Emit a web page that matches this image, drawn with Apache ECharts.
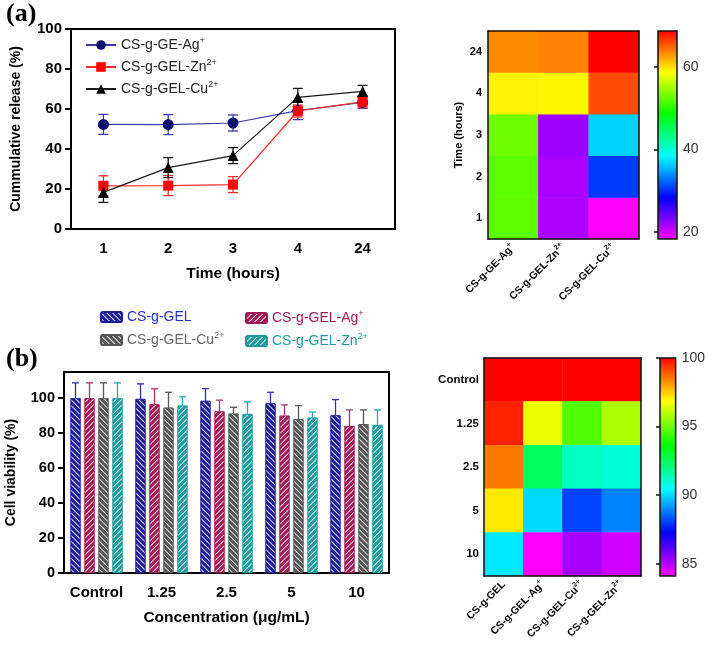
<!DOCTYPE html>
<html><head><meta charset="utf-8">
<script src="https://cdn.jsdelivr.net/npm/echarts@6/dist/echarts.min.js"></script>
<style>html,body{margin:0;padding:0;background:#fff}#c{width:708px;height:647px}</style>
</head><body><div id="c"></div>
<script>
// ---------- Panel (a): cumulative release ----------
const timeCats = ['1', '2', '3', '4', '24'];
const releaseNames = ['CS-g-GE-Ag+', 'CS-g-GEL-Zn2+', 'CS-g-GEL-Cu2+'];
const agRelease = [52.3, 52.2, 53.0, 59.2, 63.3];
const agErr = [5, 5, 4, 4.5, 3];
const znRelease = [21.6, 21.7, 22.2, 59.0, 63.6];
const znErr = [5, 5, 4, 3, 3];
const cuRelease = [18.3, 30.7, 36.7, 65.8, 68.8];
const cuErr = [5, 5, 4, 4.5, 3];
const releaseTicks = [0, 20, 40, 60, 80, 100];
const relColorbarTicks = [20, 40, 60];

// ---------- Panel (b): cell viability ----------
const concCats = ['Control', '1.25', '2.5', '5', '10'];
const viaNames = ['CS-g-GEL', 'CS-g-GEL-Ag+', 'CS-g-GEL-Cu2+', 'CS-g-GEL-Zn2+'];
const gelVia = [100, 99.6, 98.5, 97.1, 90.2];
const gelErr = [8.8, 8.6, 7.0, 6.3, 9.0];
const agVia = [100, 96.6, 92.5, 90.0, 84.1];
const agVErr = [8.8, 8.8, 6.4, 6.2, 9.2];
const cuVia = [100, 94.6, 91.2, 88.1, 85.2];
const cuVErr = [8.8, 8.8, 3.6, 7.7, 8.1];
const znVia = [100, 95.8, 91.0, 88.9, 84.7];
const znVErr = [8.8, 5.0, 6.9, 3.2, 8.6];
const viaTicks = [0, 20, 40, 60, 80, 100];
const viaColorbarTicks = [85, 90, 95, 100];

// ---------- helpers ----------
const FONT = 'Liberation Sans, Arial, sans-serif';
// internal series keys carry a panel prefix so that identical labels in (a) and (b) stay separate
const keyA = n => 'a|' + n;
const keyB = n => 'b|' + n;
function sup(name) {
  name = name.replace(/^[ab]\|/, '');
  const m = name.match(/^(.*?)(\d?\+)$/);
  return m ? '{b|' + m[1] + '}{s|' + m[2] + '}' : '{b|' + name + '}';
}
// rainbow colour map (magenta -> red), style only
const rainbow = [];
const gradStops = [];
for (let h = 300; h >= 0; h -= 20) {
  rainbow.push('hsl(' + h + ',100%,50%)');
  gradStops.push({ offset: h / 300, color: 'hsl(' + h + ',100%,50%)' });
}
gradStops.sort((a, b) => a.offset - b.offset);

const relSeries = [agRelease, znRelease, cuRelease];
const relErrs = [agErr, znErr, cuErr];
const viaSeries = [gelVia, agVia, cuVia, znVia];
const viaErrs = [gelErr, agVErr, cuVErr, znVErr];

const relMin = Math.min(...relSeries.flat());
const relMax = Math.max(...relSeries.flat());
const viaMin = Math.min(...viaSeries.flat());
const viaMax = Math.max(...viaSeries.flat());

const lineColors = ['#3a3aa6', '#ff2a2a', '#1a1a1a'];
const markerColors = ['#0c0f6e', '#ff0000', '#000000'];
const markerShapes = ['circle', 'rect', 'triangle'];
const barColors = ['#1d1d96', '#a11a58', '#555555', '#1e9a9c'];
const barErrColors = ['#3030b0', '#b3306e', '#555555', '#2aa2b2'];
const legendTextColors = ['#2230d0', '#a11a58', '#666666', '#1e9a9c'];
const barRot = [Math.PI / 4, -Math.PI / 4, Math.PI / 4, -Math.PI / 4];

function errItem(capHalf, offset, upperOnly) {
  return function (params, api) {
    const x = api.value(0), v = api.value(1), e = api.value(2);
    const pt = api.coord([x, v + e]);
    const pb = upperOnly ? api.coord([x, v]) : api.coord([x, v - e]);
    const cx = pt[0] + offset;
    const st = { stroke: api.visual('color'), lineWidth: 1.3 };
    const ch = [
      { type: 'line', shape: { x1: cx, y1: pt[1], x2: cx, y2: pb[1] }, style: st },
      { type: 'line', shape: { x1: cx - capHalf, y1: pt[1], x2: cx + capHalf, y2: pt[1] }, style: st }
    ];
    if (!upperOnly) ch.push({ type: 'line', shape: { x1: cx - capHalf, y1: pb[1], x2: cx + capHalf, y2: pb[1] }, style: st });
    return { type: 'group', children: ch };
  };
}
function colorbarItem(params, api) {
  const p1 = api.coord([0, api.value(2)]);
  const p2 = api.coord([1, api.value(1)]);
  return {
    type: 'rect',
    shape: { x: p1[0], y: p1[1], width: p2[0] - p1[0], height: p2[1] - p1[1] },
    style: { fill: new echarts.graphic.LinearGradient(0, 0, 0, 1, gradStops), stroke: '#111', lineWidth: 1.5 }
  };
}

const boldNum = { fontFamily: FONT, fontWeight: 'bold', color: '#000' };

const series = [];
// (a) lines
releaseNames.forEach((n, i) => {
  series.push({
    name: keyA(n), type: 'line', xAxisIndex: 0, yAxisIndex: 0, data: relSeries[i],
    symbol: markerShapes[i], symbolSize: i === 1 ? 10 : 11, z: 4,
    lineStyle: { color: lineColors[i], width: 1.2 },
    itemStyle: { color: markerColors[i] }
  });
});
releaseNames.forEach((n, i) => {
  series.push({
    type: 'custom', xAxisIndex: 0, yAxisIndex: 0, z: 3,
    itemStyle: { color: lineColors[i] },
    renderItem: errItem(5, 0, false),
    data: relSeries[i].map((v, k) => [k, v, relErrs[i][k]])
  });
});
// (a) heatmap
const relHeat = [];
relSeries.forEach((arr, xi) => arr.forEach((v, yi) => relHeat.push([xi, yi, v])));
series.push({ type: 'heatmap', xAxisIndex: 1, yAxisIndex: 1, data: relHeat, itemStyle: { borderWidth: 0 } });
const relHeatIndex = series.length - 1;
series.push({ type: 'custom', xAxisIndex: 3, yAxisIndex: 3, renderItem: colorbarItem, data: [[0, relMin, relMax]], encode: { x: 0, y: [1, 2] }, silent: true });

// (b) bars
viaNames.forEach((n, i) => {
  series.push({
    name: keyB(n), type: 'bar', xAxisIndex: 4, yAxisIndex: 4, data: viaSeries[i],
    barWidth: 10, barGap: '40%', z: 3,
    itemStyle: {
      color: barColors[i], borderColor: barColors[i], borderWidth: 0.8,
      decal: { symbol: 'rect', symbolSize: 1, color: 'rgba(255,255,255,0.85)', dashArrayX: [1, 0], dashArrayY: [1, 3], rotation: barRot[i] }
    }
  });
});
viaNames.forEach((n, i) => {
  series.push({
    type: 'custom', xAxisIndex: 4, yAxisIndex: 4, z: 2,
    itemStyle: { color: barErrColors[i] },
    renderItem: errItem(3.5, (i - 1.5) * 14, true),
    data: viaSeries[i].map((v, k) => [k, v, viaErrs[i][k]])
  });
});
// (b) heatmap
const viaHeat = [];
viaSeries.forEach((arr, xi) => arr.forEach((v, yi) => viaHeat.push([xi, yi, v])));
series.push({ type: 'heatmap', xAxisIndex: 5, yAxisIndex: 5, data: viaHeat, itemStyle: { borderWidth: 0 } });
const viaHeatIndex = series.length - 1;
series.push({ type: 'custom', xAxisIndex: 7, yAxisIndex: 7, renderItem: colorbarItem, data: [[0, viaMin, viaMax]], encode: { x: 0, y: [1, 2] }, silent: true });

const heatXLabel = {
  rotate: 45, interval: 0, margin: 7, fontFamily: FONT, fontWeight: 'bold', fontSize: 10.5, color: '#000',
  formatter: v => sup(v),
  rich: { b: { fontFamily: FONT, fontWeight: 'bold', fontSize: 10.5, color: '#000' },
          s: { fontFamily: FONT, fontWeight: 'bold', fontSize: 7, color: '#000', padding: [0, 0, 8, 0] } }
};
const frameAxis = (grid, pos, data) => ({
  type: 'category', gridIndex: grid, position: pos, data: data, z: 6,
  axisLine: { show: true, lineStyle: { color: '#111', width: 1.5 } },
  axisTick: { show: false }, axisLabel: { show: false }, splitLine: { show: false }
});
const legendText = (color) => ({
  fontFamily: FONT, fontSize: 14, color: color, lineHeight: 16,
  rich: { b: { fontSize: 14, fontFamily: FONT }, s: { fontSize: 9, fontFamily: FONT, padding: [0, 0, 9, 0] } }
});

const option = {
  animation: false,
  backgroundColor: '#fff',
  title: [
    { text: '(a)', left: 1, top: -4, textStyle: { fontFamily: 'Liberation Serif, Times New Roman, serif', fontWeight: 'bold', fontSize: 26, color: '#000' } },
    { text: '(b)', left: 1, top: 341, textStyle: { fontFamily: 'Liberation Serif, Times New Roman, serif', fontWeight: 'bold', fontSize: 26, color: '#000' } }
  ],
  grid: [
    { left: 71, top: 29, width: 324, height: 200, show: true, borderColor: '#000', borderWidth: 2 },
    { left: 488, top: 31, width: 151, height: 208 },
    { left: 658, top: 31, width: 19, height: 208 },
    { left: 64, top: 372, width: 325, height: 201, show: true, borderColor: '#000', borderWidth: 2 },
    { left: 484, top: 358, width: 157, height: 218 },
    { left: 660, top: 358, width: 20, height: 218 }
  ],
  legend: [
    {
      data: releaseNames.map(keyA), orient: 'vertical', left: 80, top: 31, itemWidth: 30, itemHeight: 12, itemGap: 5,
      textStyle: legendText('#222'),
      formatter: n => sup(n)
    },
    {
      data: [{ name: keyB(viaNames[0]), textStyle: { color: legendTextColors[0] } }, { name: keyB(viaNames[2]), textStyle: { color: legendTextColors[2] } }],
      orient: 'vertical', left: 95, top: 304, itemWidth: 21, itemHeight: 10, itemGap: 6,
      textStyle: legendText('#333'),
      formatter: n => sup(n)
    },
    {
      data: [{ name: keyB(viaNames[1]), textStyle: { color: legendTextColors[1] } }, { name: keyB(viaNames[3]), textStyle: { color: legendTextColors[3] } }],
      orient: 'vertical', left: 240, top: 304, itemWidth: 21, itemHeight: 10, itemGap: 6,
      textStyle: legendText('#333'),
      formatter: n => sup(n)
    }
  ],
  visualMap: [
    { type: 'continuous', show: false, seriesIndex: relHeatIndex, dimension: 2, min: relMin, max: relMax, inRange: { color: rainbow } },
    { type: 'continuous', show: false, seriesIndex: viaHeatIndex, dimension: 2, min: viaMin, max: viaMax, inRange: { color: rainbow } }
  ],
  xAxis: [
    { type: 'category', gridIndex: 0, data: timeCats, boundaryGap: true,
      axisLine: { lineStyle: { color: '#000', width: 2 } },
      axisTick: { alignWithLabel: true, length: 6, lineStyle: { color: '#000', width: 2 } },
      axisLabel: Object.assign({ fontSize: 15, margin: 12, interval: 0 }, boldNum),
      name: 'Time (hours)', nameLocation: 'middle', nameGap: 37,
      nameTextStyle: { fontFamily: FONT, fontWeight: 'bold', fontSize: 15.5, color: '#000' } },
    { type: 'category', gridIndex: 1, data: releaseNames, z: 6,
      axisLine: { lineStyle: { color: '#111', width: 1.5 } },
      axisTick: { alignWithLabel: true, length: 4, lineStyle: { color: '#111', width: 1.5 } },
      axisLabel: heatXLabel },
    frameAxis(1, 'top', releaseNames),
    { type: 'value', gridIndex: 2, min: 0, max: 1, show: false },
    { type: 'category', gridIndex: 3, data: concCats, boundaryGap: true,
      axisLine: { lineStyle: { color: '#000', width: 2 } },
      axisTick: { alignWithLabel: true, length: 6, lineStyle: { color: '#000', width: 2 } },
      axisLabel: Object.assign({ fontSize: 15, margin: 12, interval: 0 }, boldNum),
      name: 'Concentration (\u03bcg/mL)', nameLocation: 'middle', nameGap: 37,
      nameTextStyle: { fontFamily: FONT, fontWeight: 'bold', fontSize: 15.5, color: '#000' } },
    { type: 'category', gridIndex: 4, data: viaNames, z: 6,
      axisLine: { lineStyle: { color: '#111', width: 1.5 } },
      axisTick: { alignWithLabel: true, length: 4, lineStyle: { color: '#111', width: 1.5 } },
      axisLabel: heatXLabel },
    frameAxis(4, 'top', viaNames),
    { type: 'value', gridIndex: 5, min: 0, max: 1, show: false }
  ],
  yAxis: [
    { type: 'value', gridIndex: 0, min: 0, max: 100, interval: 20,
      axisLine: { show: true, lineStyle: { color: '#000', width: 2 } },
      axisTick: { show: true, length: 6, lineStyle: { color: '#000', width: 2 } },
      splitLine: { show: false },
      axisLabel: Object.assign({ fontSize: 15, margin: 9, customValues: releaseTicks }, boldNum),
      name: 'Cummulative release (%)', nameLocation: 'middle', nameGap: 48,
      nameTextStyle: { fontFamily: FONT, fontWeight: 'bold', fontSize: 14, color: '#000' } },
    { type: 'category', gridIndex: 1, data: timeCats, z: 6,
      axisLine: { lineStyle: { color: '#111', width: 1.5 } },
      axisTick: { alignWithLabel: true, length: 4, lineStyle: { color: '#111', width: 1.5 } },
      axisLabel: Object.assign({ fontSize: 11, margin: 6 }, boldNum),
      name: 'Time (hours)', nameLocation: 'middle', nameGap: 24,
      nameTextStyle: { fontFamily: FONT, fontWeight: 'bold', fontSize: 11, color: '#000' } },
    frameAxis(1, 'right', timeCats),
    { type: 'value', gridIndex: 2, position: 'right', min: relMin, max: relMax,
      axisLine: { show: false }, splitLine: { show: false },
      axisTick: { show: true, inside: true, length: 4, customValues: relColorbarTicks, lineStyle: { color: '#111', width: 1.5 } },
      axisLabel: { customValues: relColorbarTicks, fontFamily: FONT, fontSize: 14, color: '#333', margin: 6 } },
    { type: 'value', gridIndex: 3, min: 0, max: 115,
      axisLine: { show: true, lineStyle: { color: '#000', width: 2 } },
      axisTick: { show: true, length: 6, customValues: viaTicks, lineStyle: { color: '#000', width: 2 } },
      splitLine: { show: false },
      axisLabel: Object.assign({ fontSize: 14.5, margin: 9, customValues: viaTicks }, boldNum),
      name: 'Cell viability (%)', nameLocation: 'middle', nameGap: 46,
      nameTextStyle: { fontFamily: FONT, fontWeight: 'bold', fontSize: 14, color: '#000' } },
    { type: 'category', gridIndex: 4, data: concCats, inverse: true, z: 6,
      axisLine: { lineStyle: { color: '#111', width: 1.5 } },
      axisTick: { alignWithLabel: true, length: 5, lineStyle: { color: '#111', width: 1.5 } },
      axisLabel: Object.assign({ fontSize: 11.5, margin: 5 }, boldNum) },
    Object.assign(frameAxis(4, 'right', concCats), { inverse: true }),
    { type: 'value', gridIndex: 5, position: 'right', min: viaMin, max: viaMax,
      axisLine: { show: false }, splitLine: { show: false },
      axisTick: { show: true, inside: true, length: 4, customValues: viaColorbarTicks, lineStyle: { color: '#111', width: 1.5 } },
      axisLabel: { customValues: viaColorbarTicks, fontFamily: FONT, fontSize: 14, color: '#333', margin: 6 } }
  ],
  series: series
};
const chart = echarts.init(document.getElementById('c'));
chart.setOption(option);
</script>
</body></html>
